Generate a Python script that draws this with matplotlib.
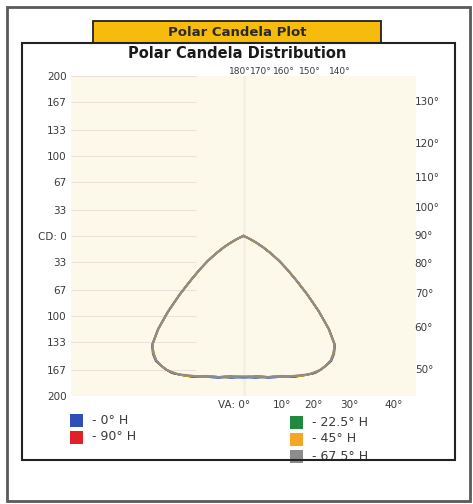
import matplotlib.pyplot as plt
from matplotlib.patches import Rectangle
import numpy as np

# vertical angles (deg, 0 = straight down) and candela per horizontal plane
angles = [0, 2.5, 5, 7.5, 10, 12.5, 15, 17.5, 20, 22.5, 25, 27.5, 30, 32.5, 35,
          37.5, 40, 42.5, 45, 47.5, 50, 52.5, 55, 57.5, 60, 62.5, 65, 67.5, 70]
cd_0h = [177, 177, 178, 178, 180, 181, 182, 184, 187, 189, 191, 193, 193, 192, 191,
         186, 178, 158, 133, 108, 86, 69, 55, 41, 29, 18, 9, 3, 0]
cd_22h = [176, 176, 177, 178, 179, 180, 182, 184, 187, 189, 191, 193, 193, 192, 190,
          185, 177, 158, 133, 108, 86, 69, 55, 41, 29, 18, 9, 3, 0]
cd_45h = [175, 176, 177, 178, 179, 180, 182, 184, 186, 189, 191, 192, 193, 192, 190,
          185, 177, 157, 133, 108, 86, 69, 55, 41, 29, 18, 9, 3, 0]
cd_67h = [176, 176, 177, 178, 179, 180, 181, 184, 186, 188, 191, 192, 193, 192, 190,
          185, 177, 158, 133, 108, 86, 69, 55, 41, 29, 18, 9, 3, 0]
cd_90h = [176, 176, 176, 177, 179, 180, 182, 184, 187, 189, 191, 193, 193, 192, 190,
          185, 177, 158, 133, 108, 86, 69, 55, 41, 29, 18, 9, 3, 0]

series = [('- 0° H', cd_0h, '#2f4fb8'),
          ('- 90° H', cd_90h, '#e3202a'),
          ('- 22.5° H', cd_22h, '#1f8a3c'),
          ('- 45° H', cd_45h, '#f5a623'),
          ('- 67.5° H', cd_67h, '#8c8c8c')]

cd_ticks = [200, 167, 133, 100, 67, 33, 0, -33, -67, -100, -133, -167, -200]
cd_labels = ['200', '167', '133', '100', '67', '33', 'CD: 0',
             '33', '67', '100', '133', '167', '200']
bottom_angles = [10, 20, 30, 40]
right_angles = [130, 120, 110, 100, 90, 80, 70, 60, 50]
top_angles = [180, 170, 160, 150, 140]
top_x = [-5, 22, 50, 83, 120]   # where the chart put these labels, in cd

W, H = 473, 504
fig = plt.figure(figsize=(W / 100, H / 100), dpi=100)
fig.patch.set_facecolor('white')


def box(x0, y0, x1, y1, **kw):
    fig.add_artist(Rectangle((x0 / W, 1 - y1 / H), (x1 - x0) / W, (y1 - y0) / H,
                             transform=fig.transFigure, **kw))


# frames
box(7, 7, 470, 501, fill=False, edgecolor='#5a5a5a', lw=2)
box(22, 43, 455, 460, fill=False, edgecolor='#222222', lw=1.5, zorder=5)
box(93, 21, 381, 43, facecolor='#f7bb0c', edgecolor='#222222', lw=1.3)
fig.text(237 / W, 1 - 32 / H, 'Polar Candela Plot', ha='center', va='center',
         fontsize=9.5, fontweight='bold', color='#2a2a2a')
fig.text(237 / W, 1 - 53 / H, 'Polar Candela Distribution', ha='center', va='center',
         fontsize=10.5, fontweight='bold', color='#1a1a1a')

ax = fig.add_axes([70.7 / W, 1 - 396 / H, 345.6 / W, 320 / H])
ax.set_xlim(-216, 216)
ax.set_ylim(-200, 200)
ax.set_facecolor('#fcf9ea')
for s in ax.spines.values():
    s.set_visible(False)
ax.set_xticks([])
ax.set_yticks(cd_ticks)
ax.set_yticklabels(cd_labels, fontsize=7.5, color='#3a3a3a')
ax.tick_params(axis='y', length=0, pad=3)

# faint grid
ax.hlines(cd_ticks, -216, -60, color='#ebe0da', lw=0.8, zorder=1)
ax.axvline(0, color='#f4f0e4', lw=2, zorder=1)

# curves, mirrored for the opposite plane
th = np.radians(angles)
for name, vals, col in series:
    r = np.array(vals, dtype=float)
    x = np.concatenate([-(r * np.sin(th))[::-1], r * np.sin(th)])
    y = np.concatenate([-(r * np.cos(th))[::-1], -r * np.cos(th)])
    ax.plot(x, y, color=col, lw=1.4, zorder=3)

lab = dict(fontsize=7.5, color='#3a3a3a', va='center', clip_on=False)
ax.text(-12, -211, 'VA: 0°', ha='center', **lab)
for a in bottom_angles:
    ax.text(210 * np.tan(np.radians(a)), -211, f'{a}°', ha='left', **lab)
for a in right_angles:
    ax.text(214, -200 / np.tan(np.radians(a)), f'{a}°', ha='left', **lab)
top_lab = dict(lab, fontsize=6.5)
for a, tx in zip(top_angles, top_x):
    ax.text(tx, 206, f'{a}°', ha='center', **top_lab)

# legend
leg_pos = [(70, 420), (70, 437), (290, 422), (290, 439), (290, 456)]
for (name, vals, col), (lx, ly) in zip(series, leg_pos):
    box(lx, ly - 6.5, lx + 13, ly + 6.5, facecolor=col, edgecolor='none')
    fig.text((lx + 22) / W, 1 - ly / H, name, ha='left', va='center',
             fontsize=9, color='#3a3a3a')

fig.savefig('out.png', dpi=100)
